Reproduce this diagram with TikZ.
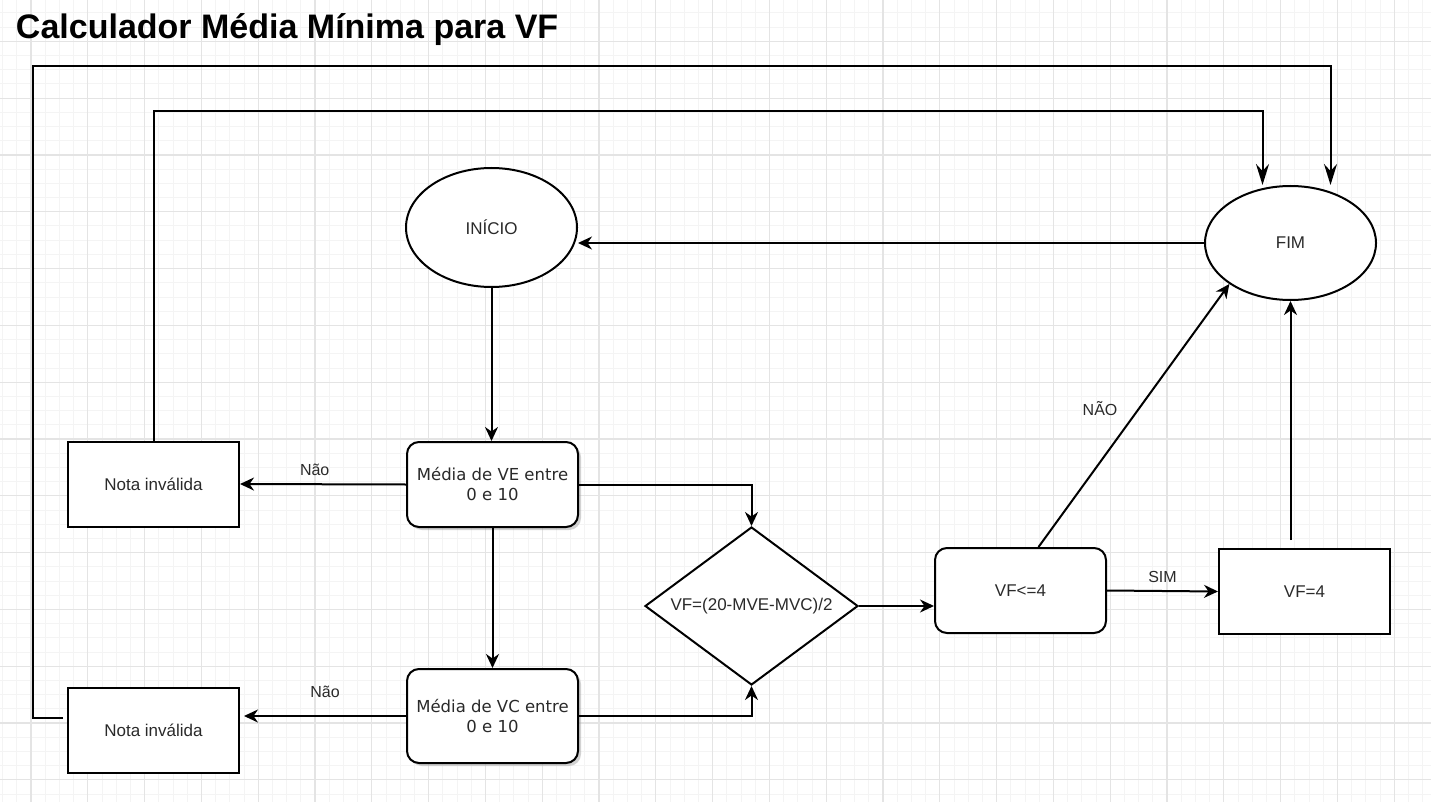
\documentclass[tikz,border=0pt]{standalone}
\usepackage{fontspec}
\setmainfont{Liberation Sans}
\newfontfamily\boxfont{DejaVu Sans}
\usetikzlibrary{shapes.geometric,arrows.meta,shadows}
\definecolor{gridmajor}{HTML}{E4E4E4}
\definecolor{gridminor}{HTML}{F4F4F4}
\definecolor{labeltext}{HTML}{2A2A2A}

\begin{document}
\begin{tikzpicture}[x=1pt,y=-1pt,line width=2pt,
  every node/.style={text=labeltext,font=\fontsize{17}{20}\selectfont},
  terminal/.style={ellipse,draw,fill=white,minimum width=171pt,inner sep=0pt},
  procbox/.style={rectangle,draw,fill=white,minimum width=171pt,minimum height=85pt,inner sep=0pt},
  roundbox/.style={procbox,rounded corners=12pt},
  shadowed/.style={drop shadow={shadow xshift=3pt,shadow yshift=-3pt,fill=black!35}},
  mediabox/.style={roundbox,shadowed,align=center,font=\boxfont\fontsize{16.5}{20}\selectfont},
  decision/.style={diamond,aspect=1.35,draw,fill=white,minimum width=213pt,minimum height=158pt,inner sep=0pt},
  flow/.style={-{Stealth[length=14pt,width=13pt,inset=4.5pt]}},
  longflow/.style={-{Stealth[length=21pt,width=13pt,inset=7pt]}},
  edgelabel/.style={font=\fontsize{16}{19}\selectfont}]

  \useasboundingbox (0,0) rectangle (1431,802);
  \fill[white] (0,0) rectangle (1431,802);
  \foreach \i in {0,...,100}
    \draw[gridminor,line width=1pt] (2.6+14.2*\i,0) -- (2.6+14.2*\i,802);
  \foreach \i in {0,...,55}
    \draw[gridminor,line width=1pt] (0,13+14.2*\i) -- (1431,13+14.2*\i);
  \foreach \i in {0,...,24}
    \draw[gridmajor,line width=1.2pt] (31+56.8*\i,0) -- (31+56.8*\i,802);
  \foreach \i in {0,...,13}
    \draw[gridmajor,line width=1.2pt] (0,41.4+56.8*\i) -- (1431,41.4+56.8*\i);

  \node[anchor=base west,text=black,inner sep=0pt,font=\fontsize{34}{39}\selectfont\bfseries] (title) at (15,39) {Calculador Média Mínima para VF};

  \node[terminal,minimum height=119pt] (inicio) at (491.5,227.5) {INÍCIO};
  \node[terminal,minimum height=114pt] (fim) at (1290.5,243) {FIM};
  \node[mediabox] (ve) at (492.5,484.5) {Média de VE entre\\0 e 10};
  \node[mediabox,minimum height=94pt] (vc) at (492.5,716) {Média de VC entre\\0 e 10};
  \node[procbox] (nota1) at (153.5,484) {Nota inválida};
  \node[procbox] (nota2) at (153.5,730.5) {Nota inválida};
  \node[decision] (dia) at (751.5,606) {VF=(20-MVE-MVC)/2};
  \node[roundbox] (vfle) at (1020.5,590.5) {VF<=4};
  \node[procbox] (vf4) at (1304.5,591.5) {VF=4};

  \draw[flow] (inicio.south) -- (inicio.south |- ve.north);
  \draw[flow] (fim.west) -- (fim.west -| inicio.east);
  \draw[flow] (ve.west) -- node[edgelabel,pos=0.55,above=4pt] {Não} (nota1.east);
  \draw[flow] (ve.south) -- (vc.north);
  \draw[flow] (ve.east) -| (dia.north);
  \draw[flow] (vc.west) -- node[edgelabel,above=14pt] {Não} ([xshift=4pt]vc.west -| nota2.east);
  \draw[flow] (vc.east) -| (dia.south);
  \draw[flow] (dia.east) -- (dia.east -| vfle.west);
  \draw[flow] (vfle.east) -- node[edgelabel,above=4pt] {SIM} (vf4.west);
  \draw[flow] ([xshift=18pt]vfle.north) -- node[edgelabel,pos=0.525,left=17pt] {NÃO} (fim.south west);
  \draw[flow] ([yshift=8pt]vf4.north -| fim.south) -- (fim.south);
  \draw[longflow] (nota1.north) -- ++(0,-329) -| ([xshift=-28pt]fim.north);
  \draw[longflow] ([yshift=12.5pt]nota2.west) ++(-4,0) -- ++(-30,0) -- ++(0,-652) -| ([xshift=40pt]fim.north);
\end{tikzpicture}
\end{document}
